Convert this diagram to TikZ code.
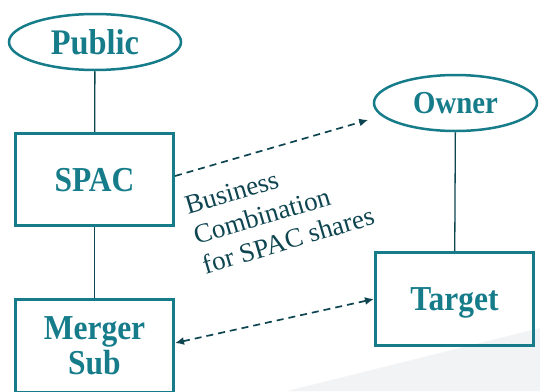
\documentclass[tikz,border=0pt]{standalone}
\usepackage{fontspec}
\setmainfont{Liberation Serif}
\newfontfamily\nodefont{Liberation Serif}[FakeStretch=0.9]
\usetikzlibrary{shapes.geometric,arrows.meta,calc}
\definecolor{tealc}{HTML}{167C8A}
\definecolor{darkc}{HTML}{0E4550}
\definecolor{bgc}{HTML}{F2F3F5}
\tikzset{
  oval/.style={ellipse, draw=tealc, line width=2.5pt, inner sep=0pt, text=tealc,
    font=\nodefont\bfseries\fontsize{35}{35}\selectfont},
  box/.style={rectangle, draw=tealc, line width=3pt, inner sep=0pt, text=tealc,
    minimum width=158pt, minimum height=93pt, align=center, text depth=0pt,
    font=\nodefont\bfseries\fontsize{35}{35}\selectfont},
  link/.style={draw=darkc, line width=1.3pt},
  flow/.style={draw=darkc, line width=1.7pt, dash pattern=on 7pt off 5pt},
}
\begin{document}
\begin{tikzpicture}[x=1pt,y=-1pt]
\useasboundingbox (0,0) rectangle (540,391);
\fill[bgc] (287,391) -- (540,328) -- (540,391) -- cycle;
\node[oval, minimum width=172pt, minimum height=56pt,
  font=\nodefont\bfseries\fontsize{36}{36}\selectfont] (public) at (95,42) {Public};
\node[oval, minimum width=163pt, minimum height=56pt,
  font=\nodefont\bfseries\fontsize{32}{32}\selectfont] (owner) at (455.5,103) {Owner};
\node[box, minimum height=92pt] (spac) at (94.5,179.5) {SPAC};
\node[box] (merger) at (94.5,346) {Merger\\Sub};
\node[box] (target) at (454.5,299) {Target};
\draw[link] (public) -- (spac);
\draw[link] (spac) -- (merger);
\draw[link] (owner) -- (target);
\draw[flow, -{Latex[length=9pt,width=8pt]}, shorten >=13.8pt] ([yshift=3.5pt]spac.east) -- (owner.190);
\draw[flow, {Latex[length=9pt,width=8pt]}-{Latex[length=9pt,width=8pt]}] ([yshift=3pt]merger.east) -- (target.west);
\node[anchor=north west, inner sep=0pt, rotate=16.5, align=left, text=darkc,
  font=\fontsize{27}{31}\selectfont] (label) at (182.8,197.4)
  {Business\\Combination\\for SPAC shares};
\end{tikzpicture}
\end{document}
